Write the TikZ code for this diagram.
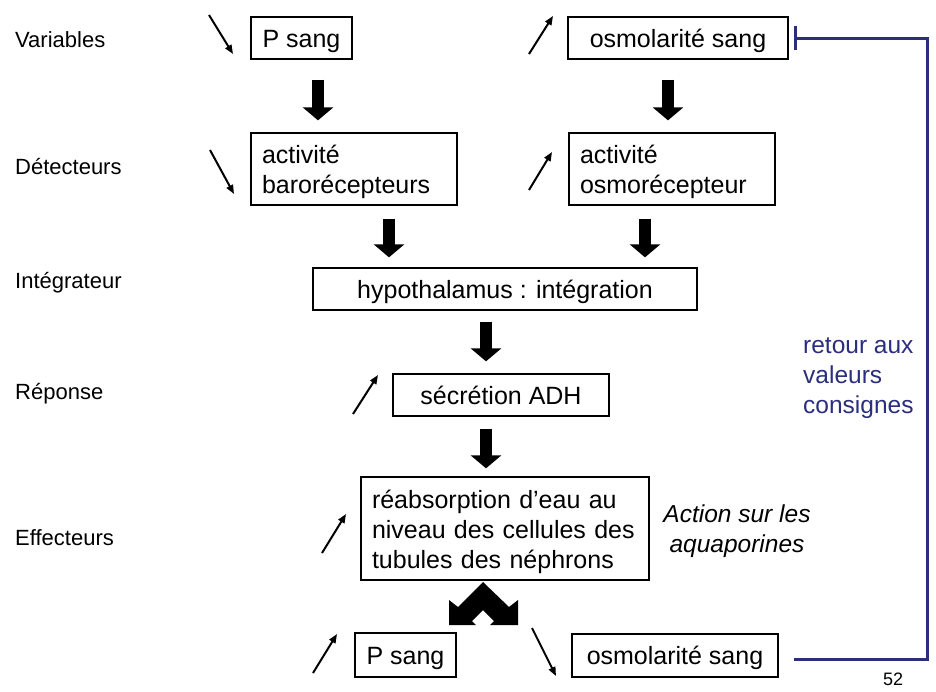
\documentclass[tikz,border=0pt]{standalone}
\usepackage{fontspec}
\setmainfont{Liberation Sans}
\usetikzlibrary{arrows.meta}
\definecolor{navy}{RGB}{42,46,125}
\tikzset{
  box/.style={draw=black, line width=1.3pt, inner sep=0pt, text height=18pt, text depth=0pt, font=\fontsize{25}{30}\selectfont},
  frame/.style={draw=black, line width=1.3pt, inner sep=0pt},
  mtext/.style={inner sep=0pt, font=\fontsize{25}{30}\selectfont, align=left},
  lbl/.style={anchor=west, inner sep=0pt, font=\fontsize{22}{26}\selectfont},
  blk/.style={line width=12pt, -{Triangle[width=30pt,length=13pt]}},
  thin/.style={line width=2pt, -{Triangle[width=7pt,length=9pt]}},
  fb/.style={navy, line width=3pt, -{Bar[width=24pt]}},
  ntext/.style={navy, anchor=west, align=left, inner sep=0pt, font=\fontsize{24.5}{30}\selectfont},
}
\begin{document}
\begin{tikzpicture}[x=1pt,y=-1pt]
\useasboundingbox (0,0) rectangle (936,691);
% left labels
\node[lbl] (l1) at (15,40) {Variables};
\node[lbl] (l2) at (15,167) {Détecteurs};
\node[lbl] (l3) at (15,283) {Intégrateur};
\node[lbl] (l4) at (15,394) {Réponse};
\node[lbl] (l5) at (15,538) {Effecteurs};
% boxes
\node[box, minimum width=101pt, minimum height=42pt] (ps1) at (301.5,38) {P sang};
\node[box, minimum width=220pt, minimum height=42pt] (os1) at (678,38) {osmolarité sang};
\node[frame, minimum width=206pt, minimum height=72pt] (baro) at (354,169) {};
\node[mtext, text width=184pt] (barot) at ([yshift=-3pt]baro.center) {activité\\barorécepteurs};
\node[frame, minimum width=206pt, minimum height=72pt] (osmo) at (672,169) {};
\node[mtext, text width=184pt] (osmot) at ([yshift=-3pt]osmo.center) {activité\\osmorécepteur};
\node[box, minimum width=384pt, minimum height=42pt] (hypo) at (505,289) {hypothalamus : intégration};
\node[box, minimum width=216pt, minimum height=42pt] (adh) at (501,395) {sécrétion ADH};
\node[frame, minimum width=288pt, minimum height=103pt] (reab) at (505,528.5) {};
\node[mtext, text width=266pt] (reabt) at ([yshift=-3pt]reab.center) {réabsorption d’eau au\\niveau des cellules des\\tubules des néphrons};
\node[box, minimum width=101pt, minimum height=44pt] (ps2) at (405.5,655) {P sang};
\node[box, minimum width=206pt, minimum height=43pt] (os2) at (675,655.5) {osmolarité sang};
% side texts
\node[anchor=center, align=center, inner sep=0pt, font=\fontsize{24.5}{30}\selectfont\itshape] (act) at (737,531) {Action sur les\\aquaporines};
\node[ntext] (ret) at (803,378) {retour aux\\valeurs\\consignes};
\node[inner sep=0pt, font=\fontsize{18}{20}\selectfont] (pg) at (893,679) {52};
% block arrows
\draw[blk] ([xshift=16.5pt,yshift=-20pt]ps1.south) -- ([xshift=-36pt,yshift=12pt]baro.north);
\draw[blk] ([xshift=-10pt,yshift=-20pt]os1.south) -- ([xshift=-4pt,yshift=12pt]osmo.north);
\draw[blk] ([xshift=35pt,yshift=-13pt]baro.south) -- ([xshift=-116pt,yshift=10pt]hypo.north);
\draw[blk] ([xshift=-27pt,yshift=-13pt]osmo.south) -- ([xshift=140pt,yshift=10pt]hypo.north);
\draw[blk] ([xshift=-19pt,yshift=-11pt]hypo.south) -- ([xshift=-15pt,yshift=12pt]adh.north);
\draw[blk] ([xshift=-15pt,yshift=-12pt]adh.south) -- ([xshift=-19pt,yshift=8pt]reab.north);
% split arrow
\fill[black] (483,582) -- (509,607) -- (518,600) -- (518,625) -- (490,625) -- (494,621) -- (483,610)
  -- (472,621) -- (476,625) -- (449,625) -- (449,600) -- (458,607) -- cycle;
% small trend arrows
\draw[thin] (209,15) -- (233,54);
\draw[thin] (529,54) -- (553,16);
\draw[thin] (210,150) -- (234,194);
\draw[thin] (529,190) -- (552,152);
\draw[thin] (353,414) -- (378,375);
\draw[thin] (322,553) -- (346,514);
\draw[thin] (313,673) -- (337,634);
\draw[thin] (532,628) -- (556,676);
% feedback
\coordinate (fbr) at (927,0);
\draw[fb] ([xshift=15pt,yshift=-3.5pt]os2.east) -| (fbr |- os1.east) -- ([xshift=5pt]os1.east);
\end{tikzpicture}
\end{document}
